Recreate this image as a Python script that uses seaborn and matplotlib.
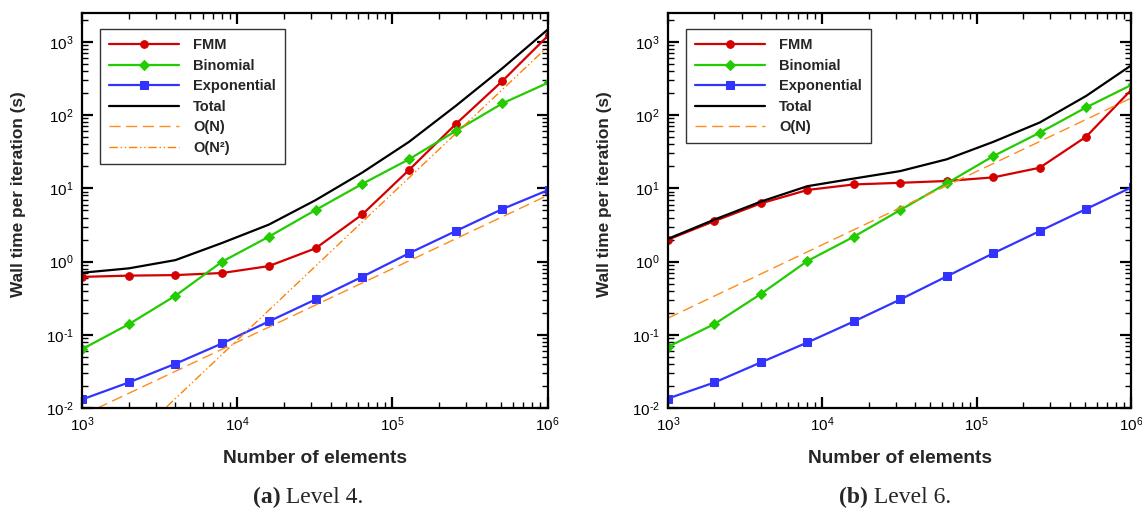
import matplotlib
matplotlib.use("Agg")
import matplotlib.pyplot as plt
import seaborn as sns
import numpy as np
from matplotlib.ticker import LogLocator, NullFormatter, FuncFormatter

# Problem sizes (number of elements)
elements = [1000, 2000, 4000, 8000, 16000, 32000, 64000, 128000, 256000, 512000, 1024000]

# Level 4 timings (s per iteration)
fmm_l4 = [0.62, 0.645, 0.656, 0.70, 0.87, 1.52, 4.4, 17.8, 75, 291, 1250]
binomial_l4 = [0.064, 0.14, 0.343, 1.0, 2.19, 5.06, 11.5, 24.9, 60.5, 144, 280]
exponential_l4 = [0.0132, 0.0225, 0.0405, 0.0767, 0.153, 0.305, 0.622, 1.30, 2.61, 5.22, 9.6]
total_l4 = [0.706, 0.81, 1.05, 1.8, 3.2, 6.9, 16.4, 43, 133, 434, 1520]

# Level 6 timings (s per iteration)
fmm_l6 = [2.0, 3.58, 6.24, 9.5, 11.3, 11.9, 12.6, 14.1, 19.1, 50.6, 230]
binomial_l6 = [0.069, 0.141, 0.363, 1.02, 2.19, 5.06, 11.7, 27.5, 57.4, 127, 262]
exponential_l6 = [0.0136, 0.0225, 0.0423, 0.079, 0.153, 0.305, 0.63, 1.30, 2.61, 5.22, 10.5]
total_l6 = [2.05, 3.75, 6.6, 10.7, 13.6, 17.2, 24.9, 43, 79, 182, 490]

# Scaling reference lines (end points)
ref_n = [1e3, 1e6]
order_n_l4 = [0.008, 8.0]
order_n2_l4 = [8.5e-4, 850]
order_n_l6 = [0.17, 170]

captions = [("(a)", " Level 4."), ("(b)", " Level 6.")]

sns.set_style("ticks")
plt.rcParams["font.family"] = ["Liberation Sans", "DejaVu Sans"]
plt.rcParams["mathtext.fontset"] = "custom"
plt.rcParams["mathtext.rm"] = "Liberation Sans"
plt.rcParams["axes.unicode_minus"] = False

C_FMM = "#d40000"
C_BIN = "#22cc00"
C_EXP = "#3333ff"
C_ORG = "#ff8c1a"


def pow10_label(v, pos):
    # power-of-ten label with a plain hyphen for negative exponents
    if v <= 0:
        return ""
    n = int(np.round(np.log10(v)))
    exp = r"\text{-}" + str(-n) if n < 0 else str(n)
    return r"$\mathdefault{10^{%s}}$" % exp


fig = plt.figure(figsize=(11.42, 5.09), dpi=100)
W, H = 1142, 509
ax_l = fig.add_axes([82 / W, 1 - 408.3 / H, 465.5 / W, 395 / H])
ax_r = fig.add_axes([668 / W, 1 - 408.3 / H, 463 / W, 395 / H])


def draw_panel(ax, fmm, binom, expo, total, refs):
    sns.lineplot(x=elements, y=fmm, ax=ax, color=C_FMM, marker="o", markersize=5.5,
                 markeredgecolor=C_FMM, linewidth=1.6, label="FMM", errorbar=None)
    sns.lineplot(x=elements, y=binom, ax=ax, color=C_BIN, marker="D", markersize=5,
                 markeredgecolor=C_BIN, linewidth=1.6, label="Binomial", errorbar=None)
    sns.lineplot(x=elements, y=expo, ax=ax, color=C_EXP, marker="s", markersize=5.5,
                 markeredgecolor=C_EXP, linewidth=1.6, label="Exponential", errorbar=None)
    sns.lineplot(x=elements, y=total, ax=ax, color="black", linewidth=1.6,
                 label="Total", errorbar=None)
    for vals, lab, dash, col in refs:
        sns.lineplot(x=ref_n, y=vals, ax=ax, color=col, linewidth=1.0,
                     label=lab, errorbar=None)
        ax.get_lines()[-1].set_dashes(dash)

    ax.set_xscale("log")
    ax.set_yscale("log")
    ax.set_xlim(1e3, 1e6)
    ax.set_ylim(1e-2, 2.44e3)
    for axis in (ax.xaxis, ax.yaxis):
        axis.set_major_locator(LogLocator(base=10, numticks=20))
        axis.set_minor_locator(LogLocator(base=10, subs=range(2, 10), numticks=20))
        axis.set_minor_formatter(NullFormatter())
        axis.set_major_formatter(FuncFormatter(pow10_label))
    ax.tick_params(which="both", direction="in", top=True, right=True,
                   labelsize=11, colors="black")
    ax.tick_params(which="major", length=8, width=1.6)
    ax.tick_params(which="minor", length=4.5, width=1.0)
    ax.tick_params(axis="x", pad=5)
    ax.tick_params(axis="y", pad=6)
    for sp in ax.spines.values():
        sp.set_linewidth(1.6)
        sp.set_color("black")

    ax.set_xlabel("Number of elements", fontsize=13.8, fontweight="bold")
    ax.set_ylabel("Wall time per iteration (s)", fontsize=12.4, fontweight="bold")
    ax.xaxis.set_label_coords(0.5, -0.126)
    ax.xaxis.label.set_va("center")
    ax.yaxis.set_label_coords(-0.137, 0.541)
    ax.yaxis.label.set_va("center")

    leg = ax.legend(loc="upper left", bbox_to_anchor=(18 / 465, 1 - 16 / 395),
                    borderaxespad=0, frameon=True, fancybox=False, framealpha=1,
                    edgecolor="#333333", handlelength=4.8, handletextpad=1.0,
                    labelspacing=0.45, borderpad=0.6, numpoints=1,
                    prop={"weight": "bold", "size": 10.5})
    leg.get_frame().set_linewidth(1.0)


draw_panel(ax_l, fmm_l4, binomial_l4, exponential_l4, total_l4,
           [(order_n_l4, "O(N)", (8, 4), C_ORG),
            (order_n2_l4, "O(N²)", (6, 2, 1, 2, 1, 2), "#ff8000")])
draw_panel(ax_r, fmm_l6, binomial_l6, exponential_l6, total_l6,
           [(order_n_l6, "O(N)", (8, 4), C_ORG)])

# Panel captions: bold tag followed by regular text
fig.canvas.draw()
renderer = fig.canvas.get_renderer()
for (tag, rest), cx in zip(captions, [308, 895]):
    t1 = fig.text(0, 1 - 497.7 / H, tag, fontsize=17, fontweight="bold",
                  family="Liberation Serif", va="center", ha="left")
    t2 = fig.text(0, 1 - 497.7 / H, rest, fontsize=17,
                  family="Liberation Serif", va="center", ha="left")
    w1 = t1.get_window_extent(renderer).width
    w2 = t2.get_window_extent(renderer).width
    x0 = cx - (w1 + w2) / 2
    t1.set_x(x0 / W)
    t2.set_x((x0 + w1) / W)

fig.savefig("out.png", dpi=100)
